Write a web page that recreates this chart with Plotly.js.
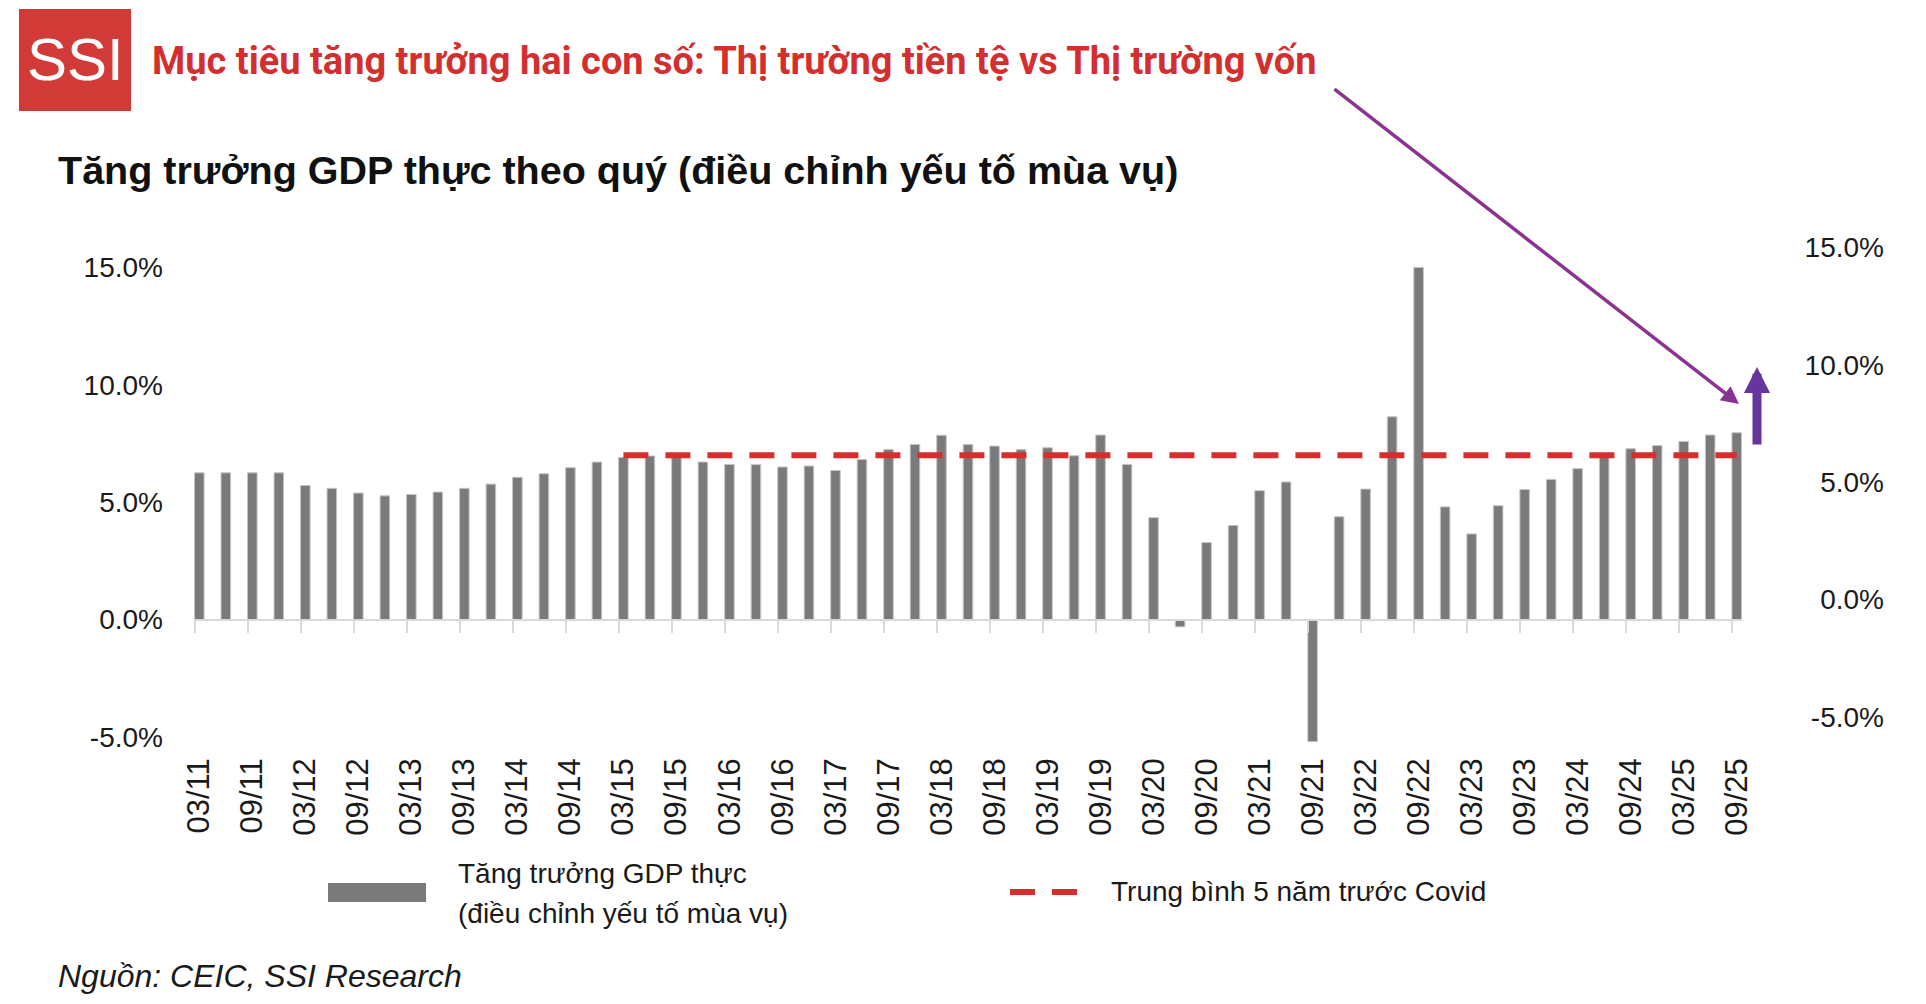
<!DOCTYPE html>
<html>
<head>
<meta charset="utf-8">
<script src="https://cdn.plot.ly/plotly-3.0.1.min.js"></script>
<style>
  html, body { margin: 0; padding: 0; background: #ffffff; }
  #chart { width: 1926px; height: 1004px; }
</style>
</head>
<body>
<div id="chart"></div>
<script>
// ---------------- DATA ----------------
const quarters = [
  '03/11','06/11','09/11','12/11','03/12','06/12','09/12','12/12',
  '03/13','06/13','09/13','12/13','03/14','06/14','09/14','12/14',
  '03/15','06/15','09/15','12/15','03/16','06/16','09/16','12/16',
  '03/17','06/17','09/17','12/17','03/18','06/18','09/18','12/18',
  '03/19','06/19','09/19','12/19','03/20','06/20','09/20','12/20',
  '03/21','06/21','09/21','12/21','03/22','06/22','09/22','12/22',
  '03/23','06/23','09/23','12/23','03/24','06/24','09/24','12/24',
  '03/25','06/25','09/25'
];
// Real GDP growth, seasonally adjusted (%)
const gdpGrowth = [
  6.25, 6.25, 6.25, 6.25, 5.71, 5.59, 5.39, 5.27,
  5.33, 5.43, 5.59, 5.77, 6.06, 6.21, 6.47, 6.71,
  6.91, 6.97, 6.94, 6.71, 6.61, 6.60, 6.50, 6.54,
  6.35, 6.82, 7.25, 7.46, 7.85, 7.46, 7.39, 7.24,
  7.32, 6.98, 7.86, 6.61, 4.34, -0.31, 3.28, 4.01,
  5.49, 5.86, -5.20, 4.38, 5.56, 8.64, 15.00, 4.80,
  3.65, 4.85, 5.54, 5.97, 6.43, 7.05, 7.28, 7.41,
  7.59, 7.86, 7.96
];
// Pre-Covid 5-year average line
const avgQuarters = ['03/15', '09/25'];
const avgValues = [7.0, 7.0];
// Axis tick labels
const xTickLabels = [
  '03/11','09/11','03/12','09/12','03/13','09/13','03/14','09/14',
  '03/15','09/15','03/16','09/16','03/17','09/17','03/18','09/18',
  '03/19','09/19','03/20','09/20','03/21','09/21','03/22','09/22',
  '03/23','09/23','03/24','09/24','03/25','09/25'
];
const yTickValues = [-5, 0, 5, 10, 15];

// Text
const headerText = 'Mục tiêu tăng trưởng hai con số: Thị trường tiền tệ vs Thị trường vốn';
const chartTitle = 'Tăng trưởng GDP thực theo quý (điều chỉnh yếu tố mùa vụ)';
const legendBar1 = 'Tăng trưởng GDP thực';
const legendBar2 = '(điều chỉnh yếu tố mùa vụ)';
const legendLine = 'Trung bình 5 năm trước Covid';
const sourceText = 'Nguồn: CEIC, SSI Research';

// ---------------- LAYOUT GEOMETRY ----------------
const W = 1926, H = 1004;
const M = { l: 194, r: 20, t: 244, b: 253 };
const plotW = W - M.l - M.r, plotH = H - M.t - M.b;
const px = x => (x - M.l) / plotW;          // pixel -> paper x
const py = y => (H - M.b - y) / plotH;      // pixel -> paper y
const plotRightPx = 1742;

const yRange = [-5.6, 16.0];
const yShift = 0.85;
const xRange = [-0.2, quarters.length - 1 + 0.2];
const idx = q => quarters.indexOf(q);

const FONT = '"Liberation Sans", Arial, sans-serif';
const GRAY = '#7a7a7a';
const RED = '#d32f2f';
const AXISGRAY = '#d9d9d9';

const bars = {
  type: 'bar',
  x: quarters.map((q, i) => i),
  y: gdpGrowth,
  marker: { color: GRAY, line: { color: '#c4c4c4', width: 1 } },
  xaxis: 'x', yaxis: 'y',
  hoverinfo: 'skip',
  showlegend: false
};
const avgLine = {
  type: 'scatter', mode: 'lines',
  x: avgQuarters.map(idx),
  y: avgValues,
  line: { color: RED, width: 6, dash: '25px,17px' },
  xaxis: 'x', yaxis: 'y',
  hoverinfo: 'skip',
  showlegend: false
};
// invisible trace to activate the right axis
const rightAxisTrace = {
  type: 'scatter', mode: 'lines', x: [0], y: [0],
  xaxis: 'x', yaxis: 'y2', line: { width: 0 }, opacity: 0,
  hoverinfo: 'skip', showlegend: false
};
// invisible trace for the tick-mark axis at zero
const tickAxisTrace = {
  type: 'scatter', mode: 'lines', x: [0], y: [0],
  xaxis: 'x2', yaxis: 'y', line: { width: 0 }, opacity: 0,
  hoverinfo: 'skip', showlegend: false
};

const labelIdx = xTickLabels.map(idx);
const xDomain = [0, px(plotRightPx)];

const layout = {
  width: W, height: H,
  margin: M,
  paper_bgcolor: '#ffffff',
  plot_bgcolor: 'rgba(0,0,0,0)',
  bargap: 0.64,
  showlegend: false,
  font: { family: FONT, color: '#1a1a1a' },
  xaxis: {
    domain: xDomain,
    range: xRange,
    tickmode: 'array',
    tickvals: labelIdx,
    ticktext: xTickLabels,
    tickangle: -90,
    ticks: '',
    showline: false,
    showgrid: false,
    zeroline: false,
    tickfont: { family: FONT, size: 31, color: '#1a1a1a' },
    ticklabelstandoff: 0
  },
  xaxis2: {
    domain: xDomain,
    overlaying: 'x',
    anchor: 'free',
    position: (0 - yRange[0]) / (yRange[1] - yRange[0]),
    range: xRange,
    tickmode: 'array',
    tickvals: labelIdx.map(i => i - 0.18),
    showticklabels: false,
    ticks: 'outside',
    ticklen: 12,
    tickwidth: 2,
    tickcolor: AXISGRAY,
    showline: true,
    linecolor: AXISGRAY,
    linewidth: 2,
    showgrid: false,
    zeroline: false
  },
  yaxis: {
    range: yRange,
    tickmode: 'array',
    tickvals: yTickValues,
    ticktext: yTickValues.map(v => v.toFixed(1) + '%'),
    ticks: '',
    showgrid: false,
    zeroline: false,
    showline: false,
    tickfont: { family: FONT, size: 28, color: '#1a1a1a' },
    ticklabelstandoff: 30
  },
  yaxis2: {
    overlaying: 'y',
    side: 'left',
    anchor: 'free',
    position: px(1884),
    range: [yRange[0] - yShift, yRange[1] - yShift],
    tickmode: 'array',
    tickvals: yTickValues,
    ticktext: yTickValues.map(v => v.toFixed(1) + '%'),
    ticks: '',
    showgrid: false,
    zeroline: false,
    showline: false,
    tickfont: { family: FONT, size: 28, color: '#1a1a1a' },
    ticklabelstandoff: 0
  },
  shapes: [
    // SSI logo box
    { type: 'rect', xref: 'paper', yref: 'paper',
      x0: px(19), x1: px(131), y0: py(111), y1: py(9),
      fillcolor: '#d13a36', line: { width: 0 } },
    // legend bar swatch
    { type: 'rect', xref: 'paper', yref: 'paper',
      x0: px(328), x1: px(426), y0: py(902), y1: py(883),
      fillcolor: GRAY, line: { width: 0 } },
    // legend dashed line
    { type: 'line', xref: 'paper', yref: 'paper',
      x0: px(1010), x1: px(1078), y0: py(892), y1: py(892),
      line: { color: RED, width: 6, dash: '25px,17px' } }
  ],
  annotations: [
    { xref: 'paper', yref: 'paper', x: px(75), y: py(60),
      text: 'SSI', showarrow: false, xanchor: 'center', yanchor: 'middle',
      font: { family: FONT, size: 60, color: '#ffffff' } },
    { xref: 'paper', yref: 'paper', x: px(150), y: py(61),
      text: '<b>' + headerText + '</b>', showarrow: false, xanchor: 'left', yanchor: 'middle',
      font: { family: 'Roboto, "Open Sans", sans-serif', size: 38, color: '#d42f2f' } },
    { xref: 'paper', yref: 'paper', x: px(56), y: py(170),
      text: '<b>' + chartTitle + '</b>', showarrow: false, xanchor: 'left', yanchor: 'middle',
      font: { family: FONT, size: 39.5, color: '#111111' } },
    // thin purple arrow
    { xref: 'paper', yref: 'paper', x: px(1739), y: py(404),
      ax: 1333 - 1739, ay: 88 - 404, axref: 'pixel', ayref: 'pixel',
      text: '', showarrow: true, arrowhead: 2, arrowsize: 1, arrowwidth: 3.5,
      arrowcolor: '#8b3391', standoff: 0 },
    // thick purple up arrow
    { xref: 'paper', yref: 'paper', x: px(1757), y: py(367),
      ax: 0, ay: 446 - 367, axref: 'pixel', ayref: 'pixel',
      text: '', showarrow: true, arrowhead: 2, arrowsize: 0.58, arrowwidth: 9,
      arrowcolor: '#67359b', standoff: 0 },
    // legend texts
    { xref: 'paper', yref: 'paper', x: px(456), y: py(873),
      text: legendBar1, showarrow: false, xanchor: 'left', yanchor: 'middle',
      font: { family: FONT, size: 28, color: '#1a1a1a' } },
    { xref: 'paper', yref: 'paper', x: px(456), y: py(913),
      text: legendBar2, showarrow: false, xanchor: 'left', yanchor: 'middle',
      font: { family: FONT, size: 28, color: '#1a1a1a' } },
    { xref: 'paper', yref: 'paper', x: px(1109), y: py(892),
      text: legendLine, showarrow: false, xanchor: 'left', yanchor: 'middle',
      font: { family: FONT, size: 28, color: '#1a1a1a' } },
    // source
    { xref: 'paper', yref: 'paper', x: px(56), y: py(976),
      text: '<i>' + sourceText + '</i>', showarrow: false, xanchor: 'left', yanchor: 'middle',
      font: { family: FONT, size: 32, color: '#1a1a1a' } }
  ]
};

Plotly.newPlot('chart', [bars, avgLine, rightAxisTrace, tickAxisTrace], layout,
  { displayModeBar: false, staticPlot: true });
</script>
</body>
</html>
